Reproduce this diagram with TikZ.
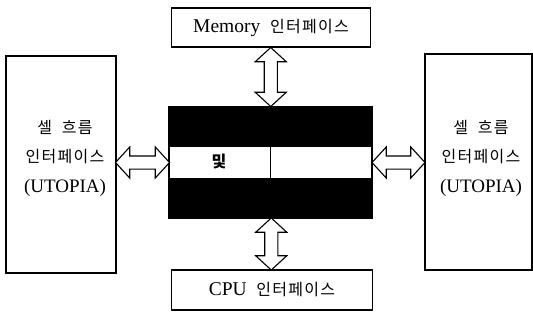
\documentclass[tikz,border=0pt]{standalone}
\usepackage{fontspec}
\setmainfont{Liberation Serif}
\newfontfamily\kr[LetterSpace=8]{Noto Sans CJK KR}
\usetikzlibrary{shapes.arrows,calc}
\newcommand{\ko}[1]{{\kr\fontsize{16}{20}\selectfont #1}}
\tikzset{
  box/.style={draw, line width=1.1pt, fill=white, inner sep=0pt, align=center, font=\fontsize{19.5}{24}\selectfont},
  darrow/.style={double arrow, draw, line width=1.1pt, fill=white, inner xsep=0pt, inner ysep=6pt,
     minimum width=30pt, double arrow head extend=9pt, double arrow tip angle=95},
  lbl/.style={font=\fontsize{19}{29.5}\selectfont, align=center},
}
\begin{document}
\begin{tikzpicture}[x=1pt,y=-1pt]
\useasboundingbox (0,0) rectangle (533,322);
\node[box, minimum width=199pt, minimum height=39pt] (mem) at (271,27.5) {Memory\ \ \ko{인터페이스}};
\node[box, minimum width=201pt, minimum height=40pt] (cpu) at (272,290) {CPU\ \ \ko{인터페이스}};
\node[box, minimum width=110pt, minimum height=217pt] (left) at (61,164.5) {};
\node[box, minimum width=107pt, minimum height=216pt] (right) at (478.5,162) {};
\node[lbl] (lt) at (65,158) {\ko{셀\ \ 흐름}\\\ko{인터페이스}\\(UTOPIA)};
\node[lbl] (rt) at (481,158) {\ko{셀\ \ 흐름}\\\ko{인터페이스}\\(UTOPIA)};
\node[draw, line width=1.1pt, fill=black, minimum width=203pt, minimum height=111pt, inner sep=0pt] (core) at (270.5,162.5) {};
\node[fill=white, minimum width=201pt, minimum height=31pt, inner sep=0pt] (band) at (core.center) {};
\draw[line width=1.5pt] (band.north) -- (band.south);
\node[font=\kr\bfseries\fontsize{16}{18}\selectfont] (kw) at (219,161) {및};
\node[darrow, rotate=90, minimum height=59pt] (a1) at ($(mem.south)!0.5!(core.north)$) {};
\node[darrow, rotate=90, minimum height=52pt] (a2) at ($(core.south)!0.5!(cpu.north)$) {};
\node[darrow, minimum height=54pt] (a3) at ($(left.east|-core.center)!0.5!(core.west)$) {};
\node[darrow, minimum height=53pt] (a4) at ($(core.east)!0.5!(right.west|-core.center)$) {};
\end{tikzpicture}
\end{document}
